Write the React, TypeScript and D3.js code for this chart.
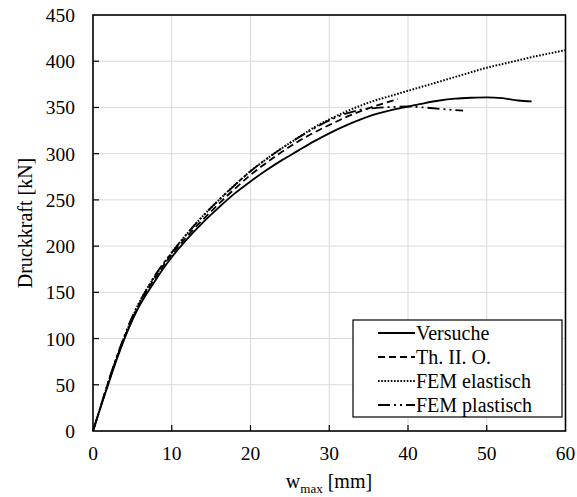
import React from "react";
import * as d3 from "d3";

const xTicks = [0, 10, 20, 30, 40, 50, 60];
const yTicks = [0, 50, 100, 150, 200, 250, 300, 350, 400, 450];

const versucheW = [0, 1, 2, 3, 4, 5, 6, 7, 8, 9, 10, 12, 14, 16, 18, 20, 22, 24, 26, 28, 30, 32, 34, 36, 38, 40, 42, 44, 46, 48, 50, 52, 54, 55.7];
const versucheF = [0, 26.5, 52, 77, 100, 120, 137, 151, 164, 176.5, 188, 208, 226, 242, 257, 270, 282, 293, 303, 313, 322, 330, 337, 343, 347.5, 351, 354.5, 357.5, 359.5, 360.5, 361, 360, 357.5, 356.5];

const thW = [0, 1, 2, 3, 4, 5, 6, 7, 8, 9, 10, 12, 14, 16, 18, 20, 22, 24, 26, 28, 30, 32, 34, 36, 38.7];
const thF = [0, 27, 54, 79, 101, 121, 139, 154, 167, 179.5, 191, 211, 229, 246, 262, 277, 290, 302, 313, 322.5, 331, 339, 346, 352, 359];

const elastW = [0, 1, 2, 3, 4, 5, 6, 7, 8, 9, 10, 12, 14, 16, 18, 20, 22, 24, 26, 28, 30, 32, 34, 36, 38, 40, 42, 44, 46, 48, 50, 52, 54, 56, 58, 60];
const elastF = [0, 27, 54, 79, 102, 123, 141, 156, 169, 181, 193, 214, 233, 250, 266, 281, 294, 306, 317, 328, 337, 345, 352, 358, 363, 368, 373, 378, 383, 388, 393, 397, 401, 405, 408.5, 412];

const plastW = [0, 1, 2, 3, 4, 5, 6, 7, 8, 9, 10, 12, 14, 16, 18, 20, 22, 24, 26, 28, 30, 32, 34, 36, 38, 40, 42, 44, 47];
const plastF = [0, 27.5, 55, 80, 103, 124, 141, 156, 170, 182, 193, 214, 233, 250, 266, 281, 294, 306, 317, 327, 336, 343, 347.5, 349.5, 350.5, 351, 350, 348.5, 346.5];

const legendLabels = ["Versuche", "Th. II. O.", "FEM elastisch", "FEM plastisch"];

const W = 577, H = 497;
const L = 93, R = 565.5, T = 15, B = 431;
const FONT = '"Liberation Serif", "DejaVu Serif", serif';
const tStyle: React.CSSProperties = { fontFamily: FONT };

export default function App() {
  const x = d3.scaleLinear().domain([0, 60]).range([L, R]);
  const y = d3.scaleLinear().domain([0, 450]).range([B, T]);
  const line = d3
    .line<[number, number]>()
    .x((d) => x(d[0]))
    .y((d) => y(d[1]))
    .curve(d3.curveMonotoneX);
  const zip = (a: number[], b: number[]) => a.map((v, i) => [v, b[i]] as [number, number]);

  const series = [
    { w: versucheW, f: versucheF, dash: "none", width: 1.8 },
    { w: thW, f: thF, dash: "7,4", width: 1.8 },
    { w: elastW, f: elastF, dash: "1.6,1.6", width: 2 },
    { w: plastW, f: plastF, dash: "12,4,2,4,2,4", width: 1.8 },
  ];

  const legX1 = 378, legX2 = 415;
  const legRows = [333, 357, 381, 405];

  return (
    <svg width={W} height={H} style={{ position: "absolute", left: 0, top: 0, background: "#fff" }}>
      <rect x={0} y={0} width={W} height={H} fill="#fff" />
      {xTicks.slice(1, -1).map((t) => (
        <line key={"gx" + t} x1={x(t)} x2={x(t)} y1={T} y2={B} stroke="#d9d9d9" strokeWidth={1} />
      ))}
      {yTicks.slice(1, -1).map((t) => (
        <line key={"gy" + t} x1={L} x2={R} y1={y(t)} y2={y(t)} stroke="#d9d9d9" strokeWidth={1} />
      ))}
      {series.map((s, i) => (
        <path
          key={"s" + i}
          d={line(zip(s.w, s.f)) || ""}
          fill="none"
          stroke="#000"
          strokeWidth={s.width}
          strokeDasharray={s.dash}
        />
      ))}
      <rect x={L} y={T} width={R - L} height={B - T} fill="none" stroke="#000" strokeWidth={1.6} />
      {xTicks.slice(1, -1).map((t) => (
        <line key={"tx" + t} x1={x(t)} x2={x(t)} y1={B} y2={B - 6} stroke="#000" strokeWidth={1.2} />
      ))}
      {yTicks.slice(1, -1).map((t) => (
        <line key={"ty" + t} x1={L} x2={L + 6} y1={y(t)} y2={y(t)} stroke="#000" strokeWidth={1.2} />
      ))}
      {xTicks.map((t) => (
        <text key={"lx" + t} x={x(t)} y={460} textAnchor="middle" style={tStyle} fontSize={19.5} fill="#000">
          {t}
        </text>
      ))}
      {yTicks.map((t) => (
        <text key={"ly" + t} x={75} y={y(t) + 7} textAnchor="end" style={tStyle} fontSize={19.5} fill="#000">
          {t}
        </text>
      ))}
      <text
        transform={`translate(32,${(T + B) / 2}) rotate(-90)`}
        textAnchor="middle"
        style={tStyle}
        fontSize={20}
        fill="#000"
      >
        Druckkraft [kN]
      </text>
      <text x={329} y={488} textAnchor="middle" style={tStyle} fontSize={20} fill="#000">
        w<tspan fontSize={13} dy={5}>max</tspan>
        <tspan dy={-5}> [mm]</tspan>
      </text>
      <rect x={353} y={320} width={209} height={97} fill="#fff" stroke="#000" strokeWidth={1.2} />
      {legendLabels.map((lab, i) => (
        <g key={"leg" + i}>
          <line
            x1={legX1}
            x2={legX2}
            y1={legRows[i]}
            y2={legRows[i]}
            stroke="#000"
            strokeWidth={series[i].width}
            strokeDasharray={series[i].dash}
          />
          <text x={416} y={legRows[i] + 7} style={tStyle} fontSize={20} fill="#000">
            {lab}
          </text>
        </g>
      ))}
    </svg>
  );
}
